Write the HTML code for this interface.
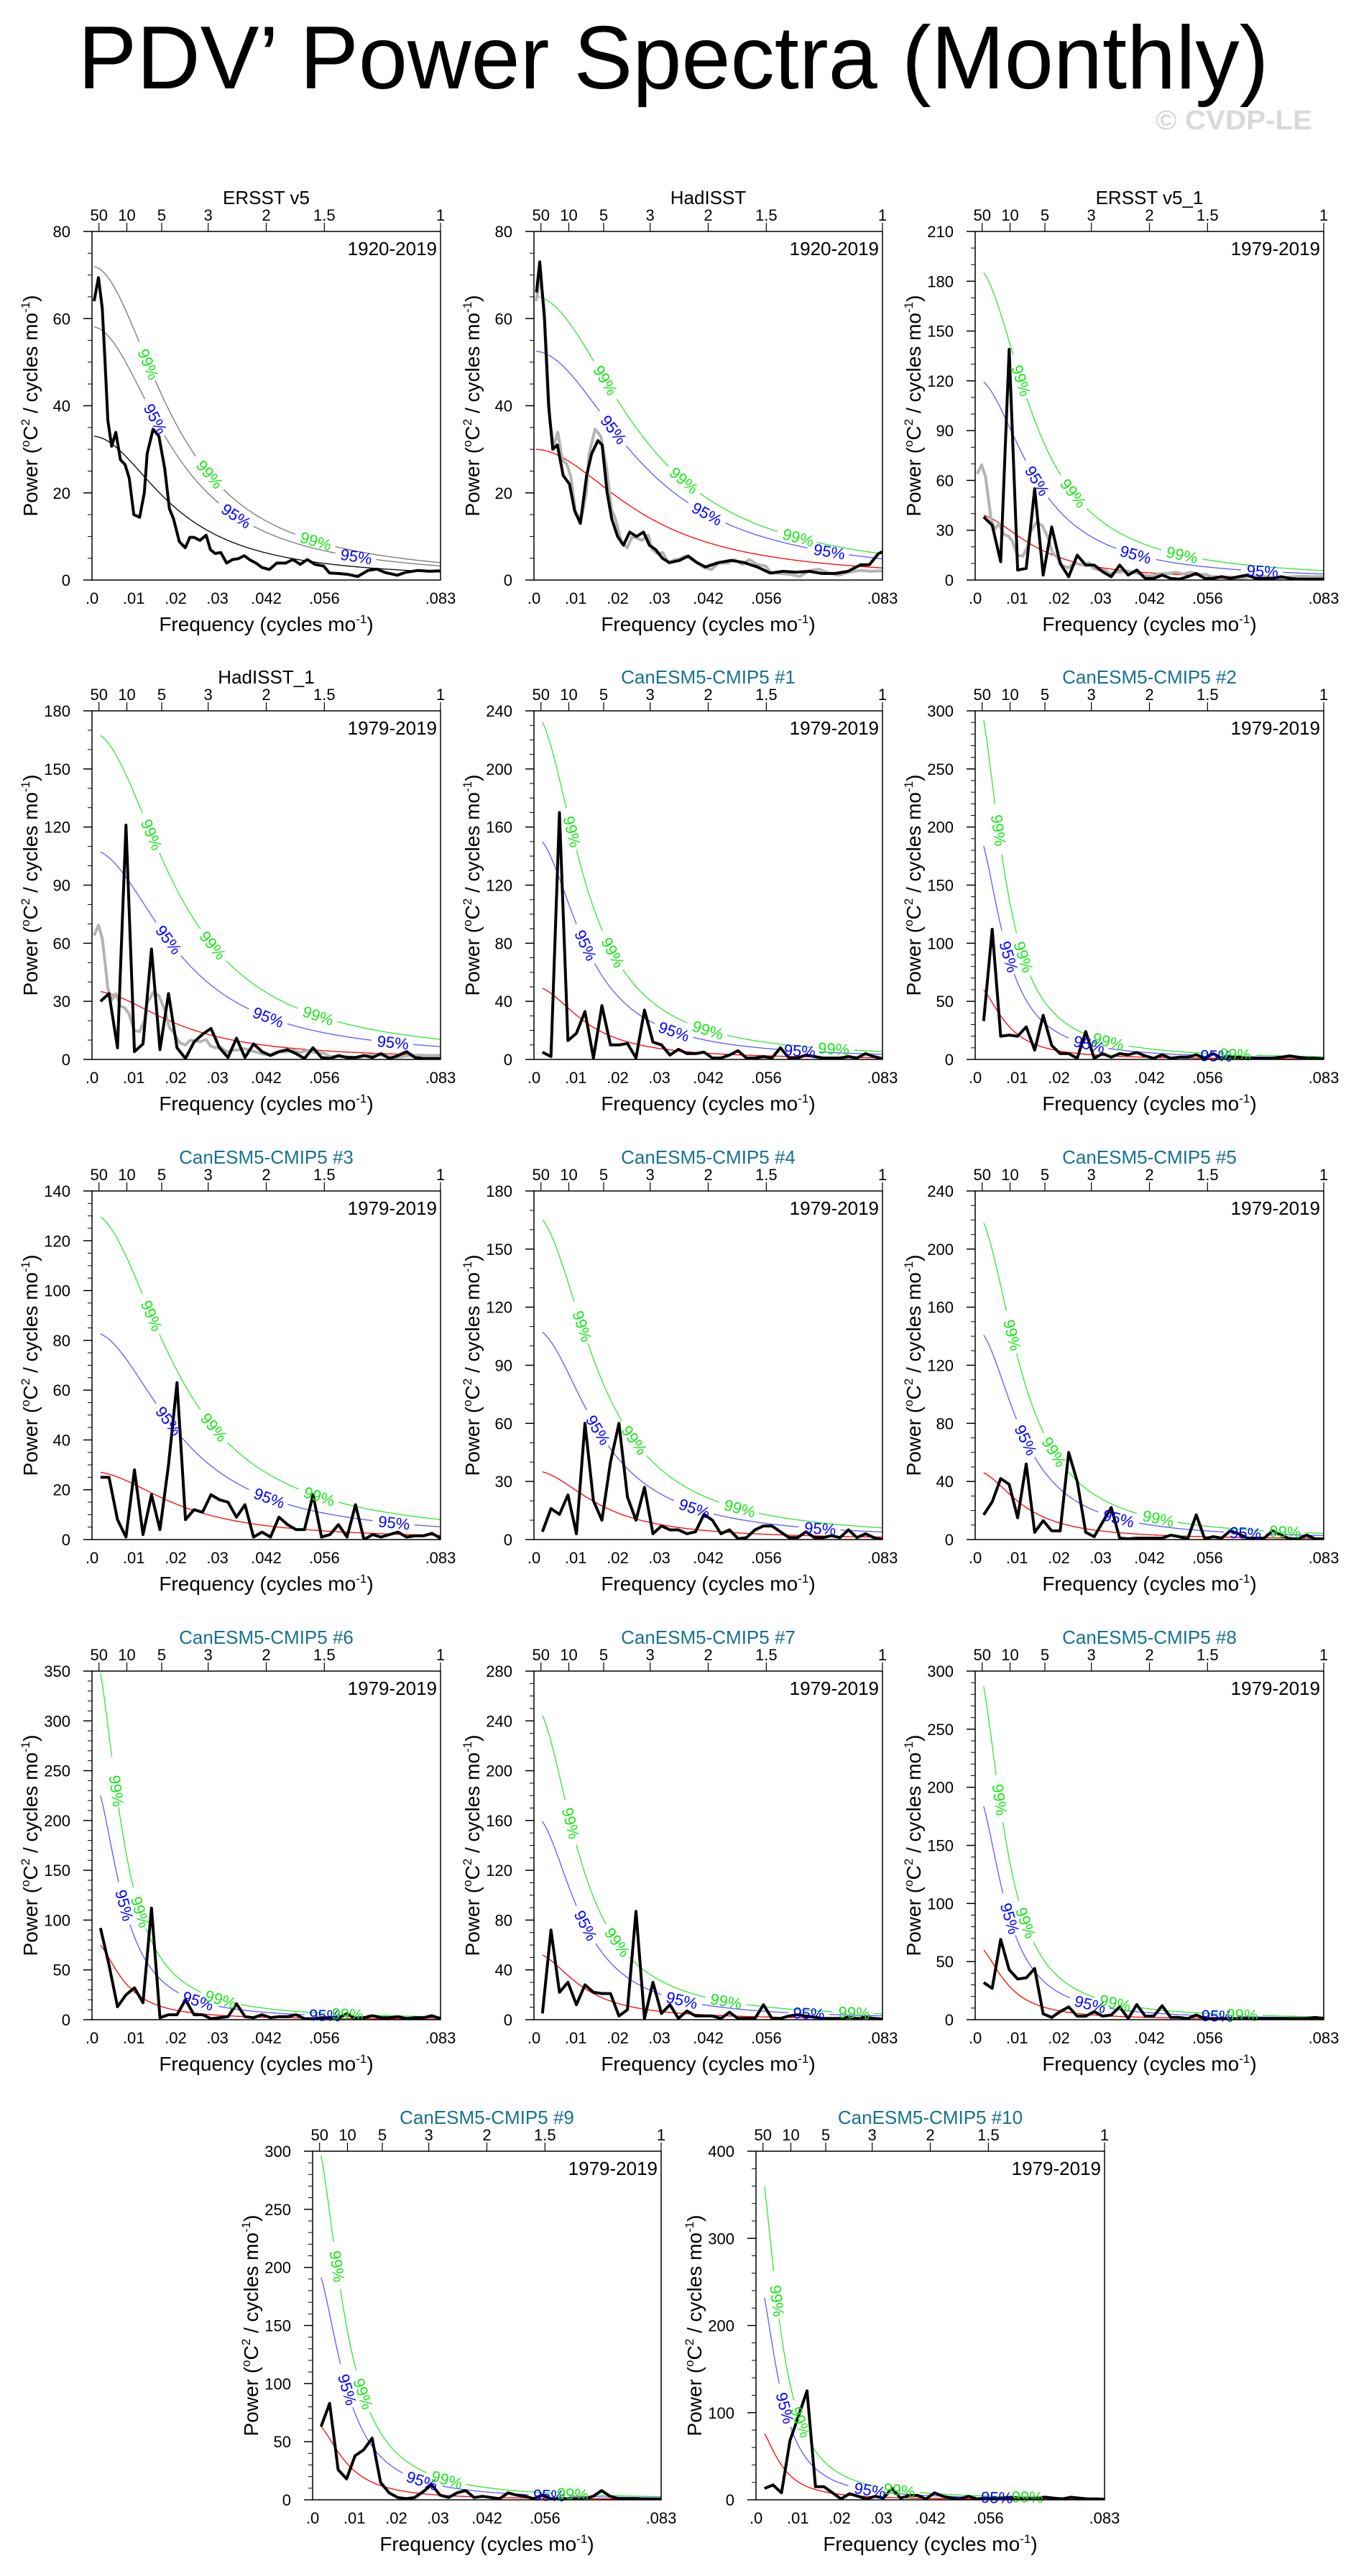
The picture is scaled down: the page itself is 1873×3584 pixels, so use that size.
<!DOCTYPE html>
<html><head><meta charset="utf-8"><title>PDV' Power Spectra (Monthly)</title>
<style>
html,body{margin:0;padding:0;background:#fff;}
svg{display:block;font-family:"Liberation Sans",Arial,sans-serif;}
</style></head>
<body>
<svg id="chart" width="1873" height="3584" viewBox="0 0 1873 3584" xmlns="http://www.w3.org/2000/svg">
<rect width="1873" height="3584" fill="#fff"/>
<text x="937" y="123" text-anchor="middle" font-size="124" textLength="1657" lengthAdjust="spacingAndGlyphs" fill="#000">PDV’ Power Spectra (Monthly)</text>
<text x="1608" y="180" font-size="38" font-weight="bold" fill="#d9d9d9" textLength="218" lengthAdjust="spacingAndGlyphs">© CVDP-LE</text>
</svg>
<script>
// ---------- data ----------
const panelTitles = ["ERSST v5","HadISST","ERSST v5_1","HadISST_1","CanESM5-CMIP5 #1","CanESM5-CMIP5 #2","CanESM5-CMIP5 #3","CanESM5-CMIP5 #4","CanESM5-CMIP5 #5","CanESM5-CMIP5 #6","CanESM5-CMIP5 #7","CanESM5-CMIP5 #8","CanESM5-CMIP5 #9","CanESM5-CMIP5 #10"];
const periodLabels = ["1920-2019","1920-2019","1979-2019","1979-2019","1979-2019","1979-2019","1979-2019","1979-2019","1979-2019","1979-2019","1979-2019","1979-2019","1979-2019","1979-2019"];
const yMax = [80,80,210,180,240,300,140,180,240,350,280,300,300,400];
const yStep = [20,20,30,30,40,50,20,30,40,50,40,50,50,100];
const yMinorPer = [3,3,2,2,3,4,3,2,3,4,3,4,4,4];
const redNoiseStart = [33,30,39,35,49,60,27,35,46,75,52,60,63,76];
const redNoiseR = [0.882,0.848,0.913,0.876,0.924,0.956,0.876,0.905,0.931,0.955,0.931,0.955,0.953,0.965];
const conf95Ratio = [1.76,1.75,3.06,3.06,3.06,3.06,3.06,3.06,3.06,3.0,3.06,3.06,3.04,3.05];
const conf99Ratio = [2.18,2.17,4.75,4.78,4.74,4.87,4.8,4.72,4.74,4.64,4.7,4.78,4.7,4.74];
const topTickPeriods = [50,10,5,3,2,1.5,1];
const topTickLabels = ["50","10","5","3","2","1.5","1"];
const bottomTickFreqs = [0,0.01,0.02,0.03,0.04167,0.05556,0.08333];
const bottomTickLabels = [".0",".01",".02",".03",".042",".056",".083"];

const ersstV5Freq = [.0005,.00155,.00246,.0031,.0038,.0047,.0057,.0068,.0079,.0089,.0100,.0114,.0125,.0132,.0146,.0160,.0174,.0185,.0195,.0209,.0223,.0234,.0244,.0258,.0273,.0283,.0294,.0308,.0322,.0336,.0350,.0364,.0378,.0392,.0406,.0424,.0442,.0463,.0480,.0498,.0515,.0533,.0554,.0568,.0589,.0611,.0635,.0660,.0681,.0702,.0730,.0751,.0780,.0808,.0832];
const ersstV5Power = [64,69.4,62.4,50.6,36.6,30.7,33.9,27.6,26.5,23.4,15.0,14.4,20,29,34.6,33,25.5,16.4,14,8.8,7.4,9.8,9.8,9.1,10.3,7,6.1,6.3,3.9,4.7,4.9,5.6,4.6,3.9,2.9,2.4,3.9,3.9,4.7,3.6,4.7,3.6,3.2,1.6,1.5,1.3,0.8,2.2,2.5,1.7,1.1,1.8,2.2,2.0,2.1];
const hadisstFreq = [.0006,.0014,.0025,.0035,.0045,.0056,.0070,.0085,.0097,.0111,.0126,.0138,.0153,.0163,.0175,.0186,.0200,.0214,.0229,.0245,.0262,.0276,.0291,.0307,.0324,.0348,.0369,.0390,.0410,.0441,.0472,.0503,.0534,.0565,.0596,.0627,.0658,.0689,.0720,.0751,.0781,.0802,.0823,.0833];
const hadisstPower = [66,73,60,40,30,31,24,22,16,13,24,29,32,31,20,14,10,8,11,10,11,8,7,5,4,4.5,5.5,4,3,4,4.5,4,3,1.6,2,1.8,2,1.5,1.5,2,3.5,3.5,6,6.5];
const months79 = 492;
const ersstV51Power = [38,33,11,139,6,7,55,3,32,10,2,15,9,9,5,2,9,3,6,1,1,3,1,0.5,2,4,1,1,2,1,2,3,1,1,1,2,1,0.5,0.5,0.5,0.5];
const hadisst1Power = [30,34,6,121,4,8,57,5,34,6,0.5,9,13,16,6,1,11,1,8,4,2,4,5,3,0.5,6,1,0.5,2,1,1,2,1,3,0.5,2,4,1,0.5,0.5,0.5];
const can1Power = [5,2,170,13,18,33,1,37,10,10,11,1,34,12,10,3,7,4,4,5,1,1,3,6,1,1,2,1,8,1,1,3,2,1,1,1,2,1,4,2,0.5];
const can2Power = [33,112,20,21,20,28,8,38,12,5,5,1,24,1,5,2,5,4,6,3,1,4,1,2,2,4,1,5,1,2,2,1,1,1,1,2,3,2,1,1,0.5];
const can3Power = [25,25,8,1,28,2,18,4,30,63,8,12,11,18,16,15,9,14,1,3,1,9,6,4,4,18,1,2,6,1,14,0,2,1,2,3,1,1.5,1.5,2.5,0.5];
const can4Power = [4,16,13,23,3,60,20,10,40,60,22,10,27,3,7,5,5,3,4,13,10,3,5,0.5,1,5,7,7,4,1,1,4,1,1,2,1,5,1,3,1,0];
const can5Power = [17,26,42,38,15,52,5,13,6,6,60,40,5,2,12,22,1,0.5,1,1,1,1,3,2,0.5,17,0.5,2,1,6,4,1,1,1,6,3,0.5,0.5,3,0.5,0.5];
const can6Power = [92,55,13,25,32,17,112,2,5,5,20,5,5,1,2,3,16,3,2,5,2,3,3,5,1,1,2,2,2,6,1,2,4,2,2,3,1,2,2,4,1];
const can7Power = [5,72,22,30,12,28,22,21,21,3,8,87,1,30,5,12,1,7,3,3,3,1,6,1,1,1,12,1,1,3,4,3,2,1,1,1,2,1,2,1,0.5];
const can8Power = [32,27,69,43,35,36,44,5,2,7,11,3,3,7,3,4,11,1,13,3,3,12,2,2,1,4,1,1,1,1,1,1,1,1,1,1,1,1,1,2,1];
const can9Power = [63,83,26,18,38,43,53,15,6,2,1,2,7,13,4,2,6,8,2,3,2,1,6,4,3,1,4,1,1,1,1,1,3,8,3,1,1,1,0.5,0.5,0.5];
const can10Power = [13,17,8,68,96,125,15,15,8,1,7,4,1,4,2,13,2,5,5,1,8,4,2,1,4,1,2,1,2,3,2,2,2,3,2,1,3,2,1,1,0.5];

// ---------- layout ----------
const PW = 485, PH = 485, FMAX = 1/12;
const panelLeft = [128,743,1357,128,743,1357,128,743,1357,128,743,1357,435,1052];
const panelTop = [322,322,322,989,989,989,1657,1657,1657,2325,2325,2325,2993,2993];

const freq79 = [];
for (let k = 1; k <= 41; k++) freq79.push(k / months79);
const seriesFreq = [ersstV5Freq,hadisstFreq,freq79,freq79,freq79,freq79,freq79,freq79,freq79,freq79,freq79,freq79,freq79,freq79];
const seriesPower = [ersstV5Power,hadisstPower,ersstV51Power,hadisst1Power,can1Power,can2Power,can3Power,can4Power,can5Power,can6Power,can7Power,can8Power,can9Power,can10Power];

const NS = 'http://www.w3.org/2000/svg';
const svg = document.getElementById('chart');
function mk(tag, attrs, parent) {
  const e = document.createElementNS(NS, tag);
  for (const k in attrs) e.setAttribute(k, attrs[k]);
  parent.appendChild(e);
  return e;
}
const defs = mk('defs', {}, svg);

function drawPanel(i) {
  const ox = panelLeft[i], oy = panelTop[i], ym = yMax[i];
  const is20 = periodLabels[i] === "1920-2019";
  const xs = f => f / FMAX * PW;
  const ys = v => PH - v / ym * PH;
  const g = mk('g', {transform: `translate(${ox},${oy})`}, svg);
  
  

  const cp = mk('clipPath', {id: 'clip' + i}, defs);
  mk('rect', {x: 0, y: 0, width: PW, height: PH}, cp);

  // title
  const t = mk('text', {x: PW / 2, y: -38, 'text-anchor': 'middle', 'font-size': 26, fill: i < 4 ? '#000' : '#16718f'}, g);
  t.textContent = panelTitles[i];
  
  

  // period label
  const pl = mk('text', {x: PW - 5, y: 33, 'text-anchor': 'end', 'font-size': 26, fill: '#000'}, g);
  pl.textContent = periodLabels[i];
  
  

  // y ticks
  const yAxis = mk('g', {}, g);
  
  
  for (let v = 0; v <= ym + 1e-9; v += yStep[i]) {
    mk('line', {x1: -12, x2: 0, y1: ys(v), y2: ys(v), stroke: '#000', 'stroke-width': 1.5}, yAxis);
    const tl = mk('text', {x: -30, y: ys(v) + 8, 'text-anchor': 'end', 'font-size': 22}, yAxis);
    tl.textContent = String(v);
    
    
    if (v < ym) {
      for (let m = 1; m <= yMinorPer[i]; m++) {
        const mv = v + yStep[i] * m / (yMinorPer[i] + 1);
        mk('line', {x1: -6, x2: 0, y1: ys(mv), y2: ys(mv), stroke: '#000', 'stroke-width': 1}, yAxis);
      }
    }
  }
  // y title
  const yt = mk('text', {transform: `translate(-76,${PH / 2}) rotate(-90)`, 'text-anchor': 'middle', 'font-size': 28}, g);
  yt.innerHTML = 'Power (<tspan dy="-11" font-size="17">o</tspan><tspan dy="11">C</tspan><tspan dy="-11" font-size="17">2</tspan><tspan dy="11"> / cycles mo</tspan><tspan dy="-11" font-size="17">-1</tspan><tspan dy="11">)</tspan>';
  
  

  // top axis (period)
  const topAxis = mk('g', {}, g);
  
  
  topTickPeriods.forEach((p, j) => {
    const x = xs(1 / (12 * p));
    mk('line', {x1: x, x2: x, y1: -12, y2: 0, stroke: '#000', 'stroke-width': 1.2}, topAxis);
    const tl = mk('text', {x: x, y: -15, 'text-anchor': 'middle', 'font-size': 22}, topAxis);
    tl.textContent = topTickLabels[j];
    
    
  });

  // bottom axis
  const botAxis = mk('g', {}, g);
  
  
  bottomTickFreqs.forEach((f, j) => {
    const tl = mk('text', {x: xs(f), y: PH + 33, 'text-anchor': 'middle', 'font-size': 22}, botAxis);
    tl.textContent = bottomTickLabels[j];
    
    
  });
  const xt = mk('text', {x: PW / 2, y: PH + 71, 'text-anchor': 'middle', 'font-size': 28}, g);
  xt.innerHTML = 'Frequency (cycles mo<tspan dy="-11" font-size="17">-1</tspan><tspan dy="11">)</tspan>';
  
  

  // curves
  const plot = mk('g', {'clip-path': `url(#clip${i})`}, g);
  const f0 = is20 ? 0.0005 : 1 / months79;
  const r = redNoiseR[i];
  const D = f => 1 + r * r - 2 * r * Math.cos(2 * Math.PI * f);
  const S = f => redNoiseStart[i] * D(f0) / D(f);

  function curvePts(mult) {
    const pts = [];
    for (let j = 0; j <= 300; j++) {
      const f = f0 + (FMAX - f0) * j / 300;
      pts.push([xs(f), ys(S(f) * mult)]);
    }
    return pts;
  }
  function labeledCurve(mult, lineColor, labelColor, label, name) {
    const pts = curvePts(mult);
    const cum = [0];
    for (let j = 1; j < pts.length; j++) cum.push(cum[j - 1] + Math.hypot(pts[j][0] - pts[j - 1][0], pts[j][1] - pts[j - 1][1]));
    const total = cum[cum.length - 1];
    const labs = [];
    for (let s = 155; s < total - 25; s += 178) labs.push(s);
    let d = '', pen = false;
    for (let j = 0; j < pts.length; j++) {
      const hidden = labs.some(s => Math.abs(cum[j] - s) < 28);
      if (hidden) { pen = false; continue; }
      d += (pen ? 'L' : 'M') + pts[j][0].toFixed(1) + ' ' + pts[j][1].toFixed(1);
      pen = true;
    }
    const p = mk('path', {d: d, fill: 'none', stroke: lineColor, 'stroke-width': 1.3}, plot);
    
    
    labs.forEach(s => {
      let j = 1;
      while (j < cum.length - 1 && cum[j] < s) j++;
      const a = pts[Math.max(0, j - 3)], b = pts[Math.min(pts.length - 1, j + 3)];
      const ang = Math.atan2(b[1] - a[1], b[0] - a[0]) * 180 / Math.PI;
      const tx = mk('text', {transform: `translate(${pts[j][0].toFixed(1)},${pts[j][1].toFixed(1)}) rotate(${ang.toFixed(1)})`, 'text-anchor': 'middle', 'dominant-baseline': 'central', 'font-size': 22, fill: labelColor}, g);
      tx.textContent = label;
      
      
    });
  }

  // red noise
  const rp = curvePts(1);
  const red = mk('path', {d: 'M' + rp.map(p => p[0].toFixed(1) + ' ' + p[1].toFixed(1)).join('L'), fill: 'none', stroke: i === 0 ? '#000' : '#ff0000', 'stroke-width': 1.3}, plot);
  
  
  labeledCurve(conf95Ratio[i], i === 0 ? '#777' : '#5a5aff', '#0000ff', '95%', 'conf-95');
  labeledCurve(conf99Ratio[i], i === 0 ? '#777' : '#33e633', '#19e619', '99%', 'conf-99');

  // grey reference (ERSST v5 full record) on panels 2-4
  if (i >= 1 && i <= 3) {
    const gd = ersstV5Freq.map((f, j) => (j ? 'L' : 'M') + xs(f).toFixed(1) + ' ' + ys(ersstV5Power[j]).toFixed(1)).join('');
    const gp = mk('path', {d: gd, fill: 'none', stroke: '#b3b3b3', 'stroke-width': 4, 'stroke-linejoin': 'round'}, plot);
    
    
  }
  // main spectrum
  const fr = seriesFreq[i], pw = seriesPower[i];
  const sd = fr.map((f, j) => (j ? 'L' : 'M') + xs(f).toFixed(1) + ' ' + ys(pw[j]).toFixed(1)).join('');
  const sp = mk('path', {d: sd, fill: 'none', stroke: '#000', 'stroke-width': 4, 'stroke-linejoin': 'round'}, plot);
  
  

  // frame
  const fr2 = mk('rect', {x: 0, y: 0, width: PW, height: PH, fill: 'none', stroke: '#000', 'stroke-width': 1.5}, g);
  
  
}
for (let i = 0; i < panelTitles.length; i++) drawPanel(i);
</script>
</body></html>
